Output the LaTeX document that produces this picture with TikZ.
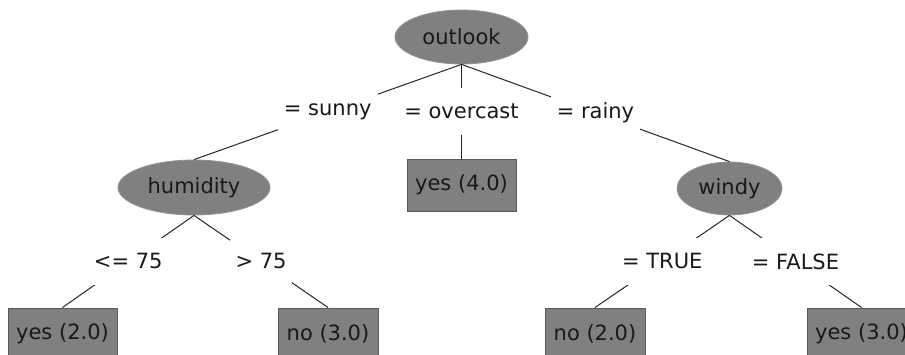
\documentclass[tikz,border=0pt]{standalone}
\usepackage{fontspec}
\setmainfont{DejaVu Sans}
\usetikzlibrary{shapes.geometric}
\definecolor{nodegray}{RGB}{128,128,128}
\definecolor{boxedge}{RGB}{90,90,90}
\begin{document}
\begin{tikzpicture}[x=1pt,y=-1pt,
  every node/.style={font=\fontsize{21}{25}\selectfont, text=black!90},
  split/.style={ellipse, fill=nodegray, draw=nodegray!85!white, line width=0.8pt, inner sep=0pt},
  leaf/.style={rectangle, fill=nodegray, draw=boxedge, line width=1pt, minimum height=52pt, inner xsep=0pt},
  lbl/.style={fill=white, inner xsep=6pt, inner ysep=0pt, minimum height=47pt},
  conn/.style={draw=black!85, line width=1pt}]
\useasboundingbox (0,0) rectangle (905,354);
\clip (0,0) rectangle (905,354);
% internal nodes
\node[split, minimum width=133pt, minimum height=54pt] (outlook) at (461.5,37) {outlook};
\node[split, minimum width=152pt, minimum height=55pt] (humidity) at (194,187.5) {humidity};
\node[split, minimum width=105pt, minimum height=53pt] (windy) at (729.5,188.5) {windy};
% leaves
\node[leaf, minimum width=109pt] (l1) at (62.5,334) {yes (2.0)};
\node[leaf, minimum width=100pt] (l2) at (328,334) {no (3.0)};
\node[leaf, minimum width=109pt] (l3) at (461.5,185) {yes (4.0)};
\node[leaf, minimum width=100pt] (l4) at (595,334) {no (2.0)};
\node[leaf, minimum width=109pt] (l5) at (861.5,334) {yes (3.0)};
% connectors
\draw[conn] (outlook.south) -- node[lbl]{= sunny} (humidity.north);
\draw[conn] (outlook.south) -- node[lbl]{= overcast} (l3.north);
\draw[conn] (outlook.south) -- node[lbl]{= rainy} (windy.north);
\draw[conn] (humidity.south) -- node[lbl]{<= 75} (l1.north);
\draw[conn] (humidity.south) -- node[lbl]{> 75} (l2.north);
\draw[conn] (windy.south) -- node[lbl]{= TRUE} (l4.north);
\draw[conn] (windy.south) -- node[lbl]{= FALSE} (l5.north);
\end{tikzpicture}
\end{document}
